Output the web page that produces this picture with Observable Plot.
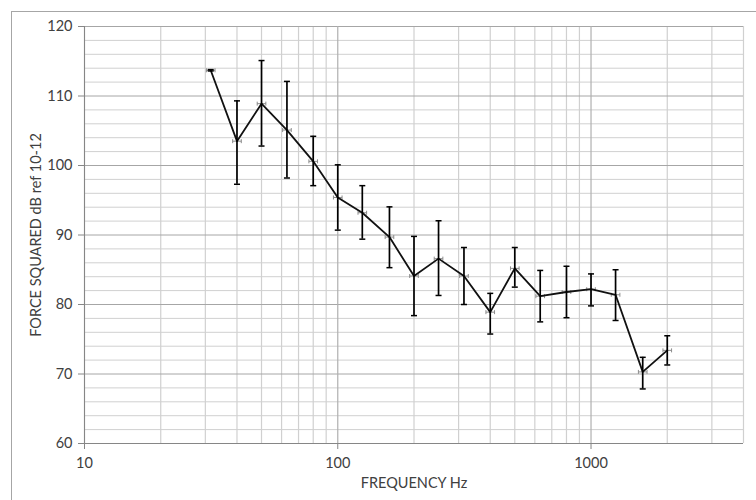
<!DOCTYPE html>
<html>
<head>
<meta charset="utf-8">
<script src="https://cdn.jsdelivr.net/npm/d3@7"></script>
<script src="https://cdn.jsdelivr.net/npm/@observablehq/plot@0.6"></script>
<style>
  html, body { margin: 0; padding: 0; background: #fff; overflow: hidden; }
  #wrap { position: relative; width: 756px; height: 500px; }
  #border { position: absolute; left: 11px; top: 11px; width: 800px; height: 600px;
            border: 1px solid #a6a6a6; box-sizing: border-box; pointer-events: none; }
  svg { display: block; }
</style>
</head>
<body>
<div id="wrap"><div id="border"></div></div>
<script>
// Third-octave band centre frequencies (Hz)
const freqs = [31.5, 40, 50, 63, 80, 100, 125, 160, 200, 250, 315, 400, 500, 630, 800, 1000, 1250, 1600, 2000];
// Mean force squared level (dB ref 1e-12)
const levels = [113.7, 103.5, 108.9, 105.1, 100.6, 95.4, 93.2, 89.7, 84.1, 86.6, 84.1, 78.9, 85.2, 81.2, 81.8, 82.2, 81.4, 70.3, 73.4];
// Error bar limits
const upper = [113.8, 109.3, 115.1, 112.1, 104.2, 100.1, 97.1, 94.05, 89.8, 92.05, 88.2, 81.6, 88.2, 84.9, 85.5, 84.4, 85.0, 72.4, 75.5];
const lower = [113.6, 97.3, 102.8, 98.2, 97.1, 90.7, 89.4, 85.3, 78.4, 81.3, 80.0, 75.75, 82.5, 77.5, 78.1, 79.8, 77.7, 67.85, 71.3];
// Small horizontal (frequency) error factor
const xErrFactor = 1.04;

// Axis ticks and gridlines
const yTicks = [60, 70, 80, 90, 100, 110, 120];
const yMinor = [62, 64, 66, 68, 72, 74, 76, 78, 82, 84, 86, 88, 92, 94, 96, 98, 102, 104, 106, 108, 112, 114, 116, 118];
const xTicks = [10, 100, 1000];
const xMinor = [20, 30, 40, 50, 60, 70, 80, 90, 200, 300, 400, 500, 600, 700, 800, 900, 2000, 3000, 4000];

const data = freqs.map((f, i) => ({f, v: levels[i], hi: upper[i], lo: lower[i]}));

const hCap = {draw(ctx) { ctx.moveTo(-3, 0); ctx.lineTo(3, 0); }};
const vCap = {draw(ctx) { ctx.moveTo(0, -2); ctx.lineTo(0, 2); }};

const chart = Plot.plot({
  width: 756,
  height: 500,
  marginLeft: 84,
  marginRight: 13,
  marginTop: 26,
  marginBottom: 57,
  style: {fontFamily: "Lato, 'Open Sans', sans-serif", fontSize: "14px", color: "#404040", background: "transparent"},
  x: {type: "log", domain: [10, 4000]},
  y: {domain: [60, 120]},
  marks: [
    Plot.ruleY(yMinor, {stroke: "#d0d0d0", strokeWidth: 1}),
    Plot.ruleX(xMinor, {stroke: "#d0d0d0", strokeWidth: 1.2}),
    Plot.ruleY(yTicks, {stroke: "#a6a6a6", strokeWidth: 1}),
    Plot.ruleX(xTicks, {stroke: "#b0b0b0", strokeWidth: 1.2}),
    Plot.ruleX([10], {stroke: "#868686", strokeWidth: 1}),
    Plot.ruleY([60], {stroke: "#868686", strokeWidth: 1}),
    Plot.axisY({ticks: yTicks, tickSize: 6, tickPadding: 6, stroke: "#868686", fontSize: 14.5, fill: "#404040",
                label: "FORCE SQUARED dB ref 10-12", labelAnchor: "center", labelArrow: "none", labelOffset: 54}),
    Plot.axisX({ticks: xTicks, tickFormat: d => String(d), tickSize: 6, tickPadding: 8, stroke: "#868686", fontSize: 14.5, fill: "#404040",
                label: "FREQUENCY Hz", labelAnchor: "center", labelArrow: "none", labelOffset: 44}),
    // horizontal (frequency) error bars, grey
    Plot.link(data, {x1: d => d.f / xErrFactor, x2: d => d.f * xErrFactor, y1: "v", y2: "v", stroke: "#8c8c8c", strokeWidth: 1}),
    Plot.dot(data, {x: d => d.f / xErrFactor, y: "v", symbol: vCap, stroke: "#8c8c8c", fill: "none", strokeWidth: 1, r: 3}),
    Plot.dot(data, {x: d => d.f * xErrFactor, y: "v", symbol: vCap, stroke: "#8c8c8c", fill: "none", strokeWidth: 1, r: 3}),
    // data line
    Plot.line(data, {x: "f", y: "v", stroke: "#111", strokeWidth: 1.8}),
    // vertical error bars
    Plot.ruleX(data, {x: "f", y1: "lo", y2: "hi", stroke: "#000", strokeWidth: 1.7}),
    Plot.dot(data, {x: "f", y: "hi", symbol: hCap, stroke: "#000", fill: "none", strokeWidth: 1.5, r: 3}),
    Plot.dot(data, {x: "f", y: "lo", symbol: hCap, stroke: "#000", fill: "none", strokeWidth: 1.5, r: 3})
  ]
});
document.getElementById("wrap").prepend(chart);
</script>
</body>
</html>
